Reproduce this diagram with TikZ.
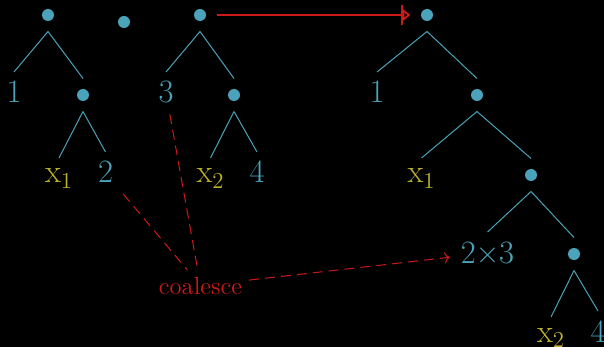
\documentclass[tikz,border=0pt]{standalone}
\usetikzlibrary{arrows.meta}
\definecolor{tealc}{RGB}{74,163,186}
\definecolor{yelc}{RGB}{190,180,40}
\definecolor{redc}{RGB}{204,26,26}
\begin{document}
\begin{tikzpicture}[x=0.5pt,y=-0.5pt,
  dot/.style={circle,fill=tealc,minimum size=6pt,inner sep=0pt,outer sep=5.25pt},
  lbl/.style={anchor=base,text=tealc,font=\fontsize{16.3}{19}\selectfont,text height=10pt,text depth=0pt,inner sep=0pt,outer sep=5.5pt},
  xlbl/.style={lbl,text=yelc,text height=7pt},
  edge/.style={draw=tealc,line width=0.5pt},
  redarrow/.style={draw=redc,line width=0.9pt,-{Bar[width=10pt,sep=0pt]Triangle[open,length=4pt,width=6pt]}},
  reddash/.style={draw=redc,line width=0.5pt,dash pattern=on 5pt off 3pt}]
\fill[black] (0,0) rectangle (604,347);
\useasboundingbox (0,0) rectangle (604,347);
% tree 1
\node[dot] (r1) at (48,15) {};
\node[lbl] (a1) at (14,103) {1};
\node[dot] (d1) at (83,95) {};
\node[xlbl] (xa) at (59,183) {x\textsubscript{1}};
\node[lbl] (two) at (105.5,183) {2};
% middle dot
\node[dot] (m) at (124,22) {};
% tree 2
\node[dot] (r2) at (200,15) {};
\node[lbl] (three) at (166,103) {3};
\node[dot] (d2) at (234,95) {};
\node[xlbl] (xb) at (210.5,183) {x\textsubscript{2}};
\node[lbl] (four) at (257,183) {4};
% tree 3
\node[dot] (r3) at (427,15) {};
\node[lbl] (c1) at (377,103) {1};
\node[dot] (d3) at (477,95) {};
\node[xlbl] (xc) at (421.5,183) {x\textsubscript{1}};
\node[dot] (d4) at (531,175) {};
\node[lbl] (tt) at (487.5,263) {2×3};
\node[dot] (d5) at (574,254) {};
\node[xlbl] (xd) at (551,342) {x\textsubscript{2}};
\node[lbl] (c4) at (598,342) {4};
% coalesce
\node[anchor=base,text=redc,font=\fontsize{12.3}{15}\selectfont] (coal) at (200.5,294) {coalesce};
% edges
\draw[edge] (r1.south) -- (a1.north);
\draw[edge] (r1.south) -- (d1.north);
\draw[edge] (d1.south) -- (xa.north);
\draw[edge] (d1.south) -- (two.north);
\draw[edge] (r2.south) -- (three.north);
\draw[edge] (r2.south) -- (d2.north);
\draw[edge] (d2.south) -- (xb.north);
\draw[edge] (d2.south) -- (four.north);
\draw[edge] (r3.south) -- (c1.north);
\draw[edge] (r3.south) -- (d3.north);
\draw[edge] (d3.south) -- (xc.north);
\draw[edge] (d3.south) -- (d4.north);
\draw[edge] (d4.south) -- (tt.north);
\draw[edge] (d4.south) -- (d5.north);
\draw[edge] (d5.south) -- (xd.north);
\draw[edge] (d5.south) -- (c4.north);
% red connectors
\draw[redarrow] (r2) -- (r3);
\draw[reddash] (two) -- (coal);
\draw[reddash] (three) -- (coal);
\draw[reddash,->] (coal) -- (tt);
\end{tikzpicture}
\end{document}
